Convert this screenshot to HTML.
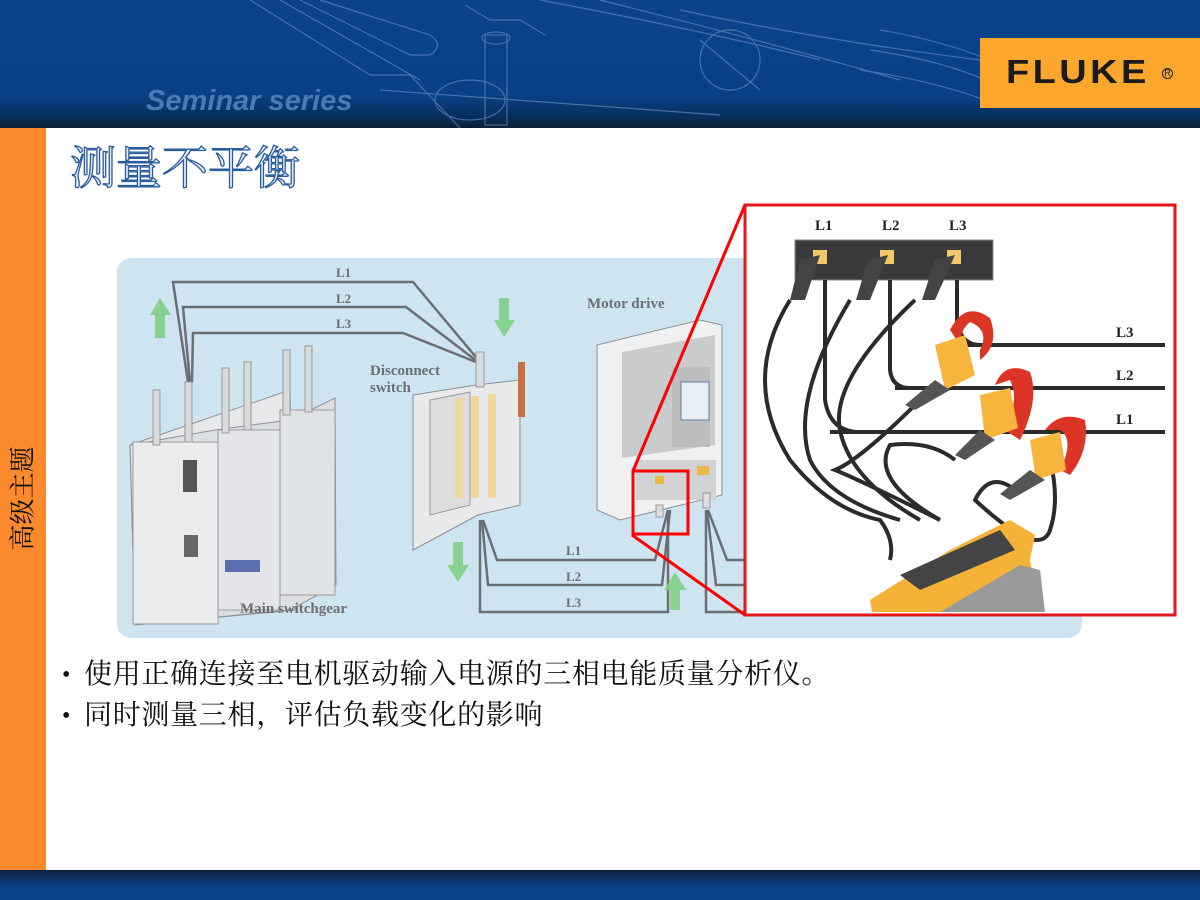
<!DOCTYPE html>
<html><head><meta charset="utf-8"><style>
html,body{margin:0;padding:0;width:1200px;height:900px;overflow:hidden;background:#fff;font-family:"Liberation Sans","Noto Sans CJK SC",sans-serif}
.abs{position:absolute}
.bl{position:absolute;font:28px 'Liberation Serif','Noto Serif CJK SC',serif;color:#111;white-space:nowrap;letter-spacing:0.7px;line-height:30px}
.bu{position:absolute;font:24px 'Liberation Serif',serif;color:#111;line-height:30px}
</style></head><body>
<div class="abs" style="left:0;top:0;width:1200px;height:128px;background:linear-gradient(180deg,#0b4288 0%,#0a4186 75%,#082d5a 92%,#0d1e34 100%)"></div>
<svg class="abs" style="left:0;top:0" width="1200" height="128">
<g fill="none" stroke="#5f86c0" stroke-width="1.2" opacity="0.7">
<path d="M250 0 L370 75 L410 75 L460 128"/><path d="M280 0 L420 80"/>
<path d="M320 0 L430 35 Q445 45 430 55 L410 55 L300 0"/>
<path d="M465 5 L490 20 L520 20 L545 35"/>
<rect x="485" y="35" width="22" height="90"/><ellipse cx="496" cy="38" rx="14" ry="6"/>
<ellipse cx="470" cy="100" rx="35" ry="20"/><path d="M380 90 L720 115"/>
<path d="M540 0 Q700 30 820 60"/><path d="M600 0 Q760 40 900 80"/><path d="M680 10 Q820 40 980 60"/>
<circle cx="730" cy="60" r="30"/><path d="M700 40 L760 90"/>
<path d="M880 30 Q940 40 990 60"/><path d="M870 50 Q940 60 985 80"/><path d="M860 70 Q930 80 985 100"/>
</g>
<text x="146" y="110" font-family="Liberation Sans" font-weight="bold" font-style="italic" font-size="29" fill="#4a7ab8">Seminar series</text>
</svg>
<div class="abs" style="left:980px;top:38px;width:220px;height:70px;background:#fba72e"></div>
<div class="abs" style="left:1006px;top:53px;font:bold 33px 'Liberation Sans';color:#1b1b1b;letter-spacing:3px;transform:scaleX(1.15);transform-origin:left">FLUKE</div>
<div class="abs" style="left:1162px;top:68px;font:9px 'Liberation Sans';color:#222;border:1px solid #222;border-radius:50%;width:9px;height:9px;line-height:9px;text-align:center">R</div>
<div class="abs" style="left:0;top:128px;width:46px;height:742px;background:#fa8a2b"></div>
<div class="abs" style="left:-34px;top:485px;width:114px;height:27px;transform:rotate(-90deg);font:26px 'Liberation Serif','Noto Serif CJK SC',serif;color:#111;line-height:27px;text-align:center;white-space:nowrap">高级主题</div>
<div class="abs" style="left:70px;top:132px;font:46px 'Liberation Serif','Noto Serif CJK SC',serif;color:#e8eef7;-webkit-text-stroke:1.3px #2b5d9e;white-space:nowrap">测量不平衡</div>
<div class="abs" style="left:0;top:870px;width:1200px;height:30px;background:linear-gradient(180deg,#0d2240,#0a4186 60%,#0b4588)"></div>
<svg class="abs" style="left:0;top:0" width="1200" height="900">
<rect x="117" y="258" width="965" height="380" rx="14" fill="#cfe4f1"/>
<g fill="none" stroke="#6a6f74" stroke-width="2.5">
<path d="M188 382 L173 282 L413 282 L480 362"/><path d="M190 382 L183 307 L406 307 L478 362"/><path d="M192 382 L193 333 L403 333 L476 362"/>
<path d="M483 520 L497 560 L655 560 L668 510"/><path d="M482 520 L488 585 L662 585 L670 510"/><path d="M480 520 L480 612 L668 612 L668 510"/>
<path d="M708 510 L727 560 L745 560"/><path d="M707 510 L716 585 L745 585"/><path d="M706 510 L706 612 L745 612"/>
</g>
<g fill="#6b6f73" font-family="Liberation Serif" font-weight="bold" font-size="13">
<text x="336" y="277">L1</text><text x="336" y="303">L2</text><text x="336" y="328">L3</text>
<text x="566" y="555">L1</text><text x="566" y="581">L2</text><text x="566" y="607">L3</text>
</g>
<g font-family="Liberation Serif" font-weight="bold" font-size="15" fill="#6b6f73">
<text x="370" y="375">Disconnect</text><text x="370" y="392">switch</text>
<text x="587" y="308">Motor drive</text>
</g>
<g fill="#7fcf86" opacity="0.9">
<path d="M150 315 L160 298 L171 315 L165 315 L165 338 L155 338 L155 315Z"/>
<path d="M494 320 L504 337 L515 320 L509 320 L509 298 L499 298 L499 320Z"/>
<path d="M447 565 L458 582 L469 565 L463 565 L463 542 L453 542 L453 565Z"/>
<path d="M664 590 L675 572 L686 590 L680 590 L680 610 L670 610 L670 590Z"/>
</g>
<path d="M130 445 L290 390 L295 610 L135 625Z" fill="#e6e8ea" stroke="#8d9093"/>
<path d="M130 445 L215 430 L290 420 L335 398 L336 585 L290 610 L135 625Z" fill="#dcdfe2" stroke="#8d9093"/>
<rect x="133" y="442" width="85" height="182" fill="#e9ebed" stroke="#999"/>
<rect x="218" y="430" width="62" height="180" fill="#e3e5e8" stroke="#999"/>
<rect x="280" y="410" width="55" height="185" fill="#e0e3e6" stroke="#999"/>
<g fill="#d8dadc" stroke="#999"><rect x="153" y="390" width="7" height="55"/><rect x="185" y="382" width="7" height="60"/><rect x="222" y="368" width="7" height="65"/><rect x="244" y="362" width="7" height="68"/><rect x="283" y="350" width="7" height="65"/><rect x="305" y="346" width="7" height="66"/></g>
<rect x="183" y="460" width="14" height="32" fill="#555"/><rect x="184" y="535" width="14" height="22" fill="#666"/>
<rect x="225" y="560" width="35" height="12" fill="#5a6fb0"/>
<text x="240" y="613" font-family="Liberation Serif" font-weight="bold" font-size="15" fill="#6b6f73">Main switchgear</text>
<path d="M413 395 L476 385 L520 380 L520 505 L478 515 L413 550Z" fill="#e8eaec" stroke="#8d9093"/>
<path d="M430 400 L470 392 L470 505 L430 515Z" fill="#ddd" stroke="#999"/>
<g fill="#f1d79c"><rect x="455" y="398" width="8" height="100"/><rect x="471" y="396" width="8" height="102"/><rect x="488" y="394" width="8" height="104"/></g>
<rect x="518" y="362" width="7" height="55" fill="#c97040"/>
<rect x="476" y="352" width="8" height="35" fill="#d8dadc" stroke="#999"/>
<path d="M597 345 L700 320 L722 325 L722 495 L620 520 L597 510Z" fill="#eef0f1" stroke="#8d9093"/>
<path d="M622 352 L715 335 L715 445 L622 458Z" fill="#c9cbcd"/>
<rect x="672" y="367" width="38" height="80" fill="#bbbdbf"/>
<rect x="681" y="382" width="28" height="38" fill="#e8eef5" stroke="#6a7ea0"/>
<rect x="636" y="460" width="80" height="40" fill="#d0d2d4"/>
<rect x="655" y="476" width="9" height="8" fill="#e8b948"/><rect x="697" y="466" width="12" height="9" fill="#e8b948"/>
<rect x="656" y="505" width="7" height="12" fill="#ddd" stroke="#999"/><rect x="703" y="493" width="7" height="15" fill="#ddd" stroke="#999"/>
<g stroke="#f00" stroke-width="3" fill="none">
<path d="M633 471 L745 205"/><path d="M632 535 L745 615"/>
<rect x="633" y="471" width="55" height="63"/>
</g>
<rect x="745" y="205" width="430" height="410" fill="#fff" stroke="#e4161b" stroke-width="3"/>
<g font-family="Liberation Serif" font-weight="bold" font-size="15" fill="#222">
<text x="815" y="230">L1</text><text x="882" y="230">L2</text><text x="949" y="230">L3</text>
<text x="1116" y="337">L3</text><text x="1116" y="380">L2</text><text x="1116" y="424">L1</text>
</g>
<rect x="795" y="240" width="198" height="40" fill="#3a3a3c" stroke="#888"/>
<g fill="#f1c86a"><rect x="813" y="250" width="14" height="14"/><rect x="880" y="250" width="14" height="14"/><rect x="947" y="250" width="14" height="14"/></g>
<g fill="none" stroke="#2b2b2b" stroke-width="4">
<path d="M960 345 L1165 345"/><path d="M895 388 L1165 388"/><path d="M830 432 L1165 432"/>
<path d="M825 280 L825 400 Q830 432 860 432"/><path d="M890 280 L890 370 Q892 388 910 388"/><path d="M957 280 L957 320 Q960 345 980 345"/>
<path d="M790 300 Q740 380 790 460 Q830 510 880 520 Q895 540 890 560"/>
<path d="M850 300 Q790 400 810 460 Q830 500 900 520"/>
<path d="M915 300 Q830 380 840 430 Q850 480 920 520"/>
<path d="M920 400 Q860 460 835 470 Q860 480 940 520"/>
<path d="M955 460 Q930 440 890 445 Q870 480 940 520"/>
<path d="M1015 490 Q990 470 975 500 Q1040 560 1050 530 Q1060 500 1050 460"/>
</g>
<g fill="#444"><path d="M800 260 L820 255 L805 300 L790 300Z"/><path d="M868 260 L888 255 L870 300 L856 300Z"/><path d="M935 260 L955 255 L935 300 L922 300Z"/></g>
<g fill="#dd3525"><path d="M950 330 Q965 300 990 318 Q1000 345 980 360 L980 350 Q990 330 970 322 Q960 330 960 345Z"/>
<path d="M995 385 Q1005 360 1030 372 Q1040 400 1020 440 L1005 430 Q1020 400 1010 380Z"/>
<path d="M1045 430 Q1060 410 1085 420 Q1090 450 1070 475 L1060 470 Q1075 440 1060 430Z"/></g>
<g fill="#f7b53d"><path d="M935 345 L965 335 L975 375 L945 390Z"/><path d="M980 395 L1010 388 L1018 428 L985 440Z"/><path d="M1030 440 L1060 432 L1066 470 L1036 480Z"/></g>
<g fill="#555"><path d="M935 380 L950 390 L915 410 L905 405Z"/><path d="M980 430 L995 440 L965 460 L955 455Z"/><path d="M1030 470 L1045 480 L1010 500 L1000 494Z"/></g>
<path d="M870 600 L950 550 L1010 520 L1035 535 L1030 560 L1040 612 L872 612Z" fill="#f4b236"/>
<path d="M900 575 L1000 530 L1015 550 L920 590Z" fill="#444"/>
<path d="M940 612 L1020 565 L1040 570 L1045 612Z" fill="#9a9a9a"/>
</svg>
<div class="bu" style="left:62px;top:660px">•</div>
<div class="bl" style="left:84px;top:660px">使用正确连接至电机驱动输入电源的三相电能质量分析仪。</div>
<div class="bu" style="left:62px;top:701px">•</div>
<div class="bl" style="left:84px;top:701px">同时测量三相，评估负载变化的影响</div>
</body></html>
